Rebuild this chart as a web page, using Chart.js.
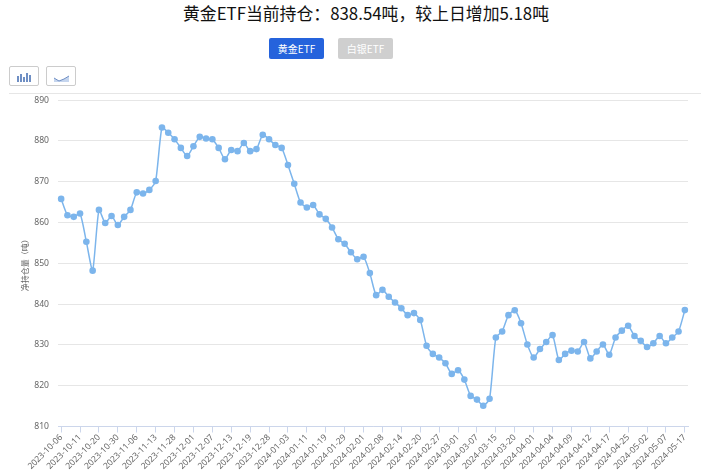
<!DOCTYPE html>
<html>
<head>
<meta charset="utf-8">
<script src="https://cdn.jsdelivr.net/npm/chart.js@4/dist/chart.umd.min.js"></script>
<style>
    body { margin: 0; background: #fff; font-family: "Noto Sans CJK SC", "Noto Sans", sans-serif; }
    .page { position: relative; width: 701px; height: 470px; overflow: hidden; }
    .title { position: absolute; left: 0; top: 1px; width: 732px; text-align: center; font-size: 16.85px; line-height: 24px; color: #111; }
    .tab { position: absolute; top: 38px; width: 55px; height: 21px; line-height: 21px; text-align: center; font-size: 10px; color: #fff; border-radius: 2px; }
    .tab.gold { left: 269px; background: #2563dc; }
    .tab.silver { left: 338px; background: #cfcfcf; }
    .icon-btn { position: absolute; top: 66px; width: 28px; height: 18px; border: 1px solid #ccc; border-radius: 2px; }
    .rule { position: absolute; left: 9px; right: 0; top: 93px; height: 1px; background: #e6e6e6; }
    canvas { position: absolute; left: 0; top: 86px; }
</style>
</head>
<body>
<div class="page">
    <div class="title">黄金ETF当前持仓：838.54吨，较上日增加5.18吨</div>
    <div class="tab gold">黄金ETF</div>
    <div class="tab silver">白银ETF</div>
    <div class="icon-btn" style="left:9px">
        <svg width="28" height="18"><path d="M8 8v6M11 6v8M14 9v5M17 5v9M20 7v7" stroke="#6f8fc4" stroke-width="2"/></svg>
    </div>
    <div class="icon-btn" style="left:46px">
        <svg width="28" height="18"><path d="M7 10l5 3 5-2 5-3v6H7z" fill="#c5d5ee"/><path d="M7 10l5 3 5-2 5-3" fill="none" stroke="#6f8fc4"/></svg>
    </div>
    <div class="rule"></div>
    <canvas id="etfChart" width="701" height="384"></canvas>
</div>
<script>
// Datas mostradas no eixo, uma a cada 3 pontos
const tickLabels = [
    '2023-10-06', '2023-10-11', '2023-10-20', '2023-10-30', '2023-11-06', '2023-11-13', '2023-11-28',
    '2023-12-01', '2023-12-07', '2023-12-13', '2023-12-19', '2023-12-28', '2024-01-03', '2024-01-11',
    '2024-01-19', '2024-01-29', '2024-02-01', '2024-02-08', '2024-02-14', '2024-02-20', '2024-02-27',
    '2024-03-01', '2024-03-07', '2024-03-15', '2024-03-20', '2024-04-01', '2024-04-04', '2024-04-09',
    '2024-04-12', '2024-04-17', '2024-04-25', '2024-05-02', '2024-05-07', '2024-05-17'
];

// Valores (toneladas)
const holdings = [
    865.8, 861.8, 861.4, 862.2, 855.3, 848.2, 863.1, 859.9, 861.6, 859.4,
    861.4, 863.1, 867.4, 867.1, 868.0, 870.2, 883.3, 882.0, 880.4, 878.3,
    876.3, 878.7, 881.0, 880.6, 880.4, 878.3, 875.5, 877.8, 877.5, 879.5,
    877.5, 878.0, 881.5, 880.4, 879.0, 878.3, 874.1, 869.5, 864.9, 863.7,
    864.3, 862.0, 860.9, 858.8, 855.9, 854.8, 852.7, 851.0, 851.6, 847.6,
    842.2, 843.5, 841.8, 840.4, 839.0, 837.3, 837.8, 836.1, 829.8, 827.8,
    826.9, 825.5, 822.9, 823.8, 821.5, 817.5, 816.6, 815.1, 816.8, 831.8,
    833.3, 837.3, 838.5, 835.3, 830.1, 826.9, 829.0, 830.7, 832.4, 826.3,
    827.8, 828.6, 828.4, 830.7, 826.7, 828.4, 830.1, 827.6, 831.8, 833.5,
    834.7, 832.2, 831.0, 829.5, 830.4, 832.2, 830.4, 831.8, 833.3, 838.54
];

const yTicks = [810, 820, 830, 840, 850, 860, 870, 880, 890];

const categories = holdings.map((v, i) => (i % 3 === 0 ? tickLabels[i / 3] : ''));

document.addEventListener('DOMContentLoaded', function() {
    const ctx = document.getElementById('etfChart').getContext('2d');

    new Chart(ctx, {
        type: 'line',
        data: {
            labels: categories,
            datasets: [{
                label: '净持仓量（吨）',
                data: holdings,
                borderColor: '#7cb5ec',
                backgroundColor: '#7cb5ec',
                borderWidth: 1.5,
                tension: 0.2,
                pointRadius: 3.3,
                pointHoverRadius: 3.3,
                pointBorderWidth: 0,
                fill: false
            }]
        },
        options: {
            responsive: false,
            animation: false,
            devicePixelRatio: 1,
            layout: { padding: { top: 0, right: 13, left: 0, bottom: 0 } },
            scales: {
                x: {
                    offset: true,
                    afterBuildTicks: (axis) => {
                        axis.ticks = axis.ticks.filter((t, i) => i % 3 === 0);
                    },
                    afterFit: (axis) => { axis.height = 43.5; },
                    grid: {
                        drawOnChartArea: false,
                        drawTicks: true,
                        tickLength: 6,
                        tickColor: '#ccd6eb',
                        color: '#ccd6eb'
                    },
                    border: { color: '#ccd6eb', width: 1 },
                    ticks: {
                        autoSkip: false,
                        maxRotation: 45,
                        minRotation: 45,
                        padding: 0,
                        color: '#666',
                        font: { size: 8.6, family: '"Noto Sans"' }
                    }
                },
                y: {
                    min: 810,
                    max: 890,
                    afterBuildTicks: (axis) => {
                        axis.ticks = yTicks.map((value) => ({ value }));
                    },
                    afterFit: (axis) => { axis.width = 58; },
                    title: {
                        display: true,
                        text: '净持仓量（吨）',
                        color: '#666',
                        font: { size: 8, family: '"Noto Sans CJK SC"' },
                        padding: { top: 20, bottom: 0 }
                    },
                    grid: { color: '#e6e6e6', drawTicks: false },
                    border: { display: false },
                    ticks: {
                        padding: 9,
                        color: '#666',
                        font: { size: 8.6, family: '"Noto Sans"' }
                    }
                }
            },
            plugins: {
                legend: { display: false },
                tooltip: { enabled: false }
            }
        }
    });
});
</script>
</body>
</html>
